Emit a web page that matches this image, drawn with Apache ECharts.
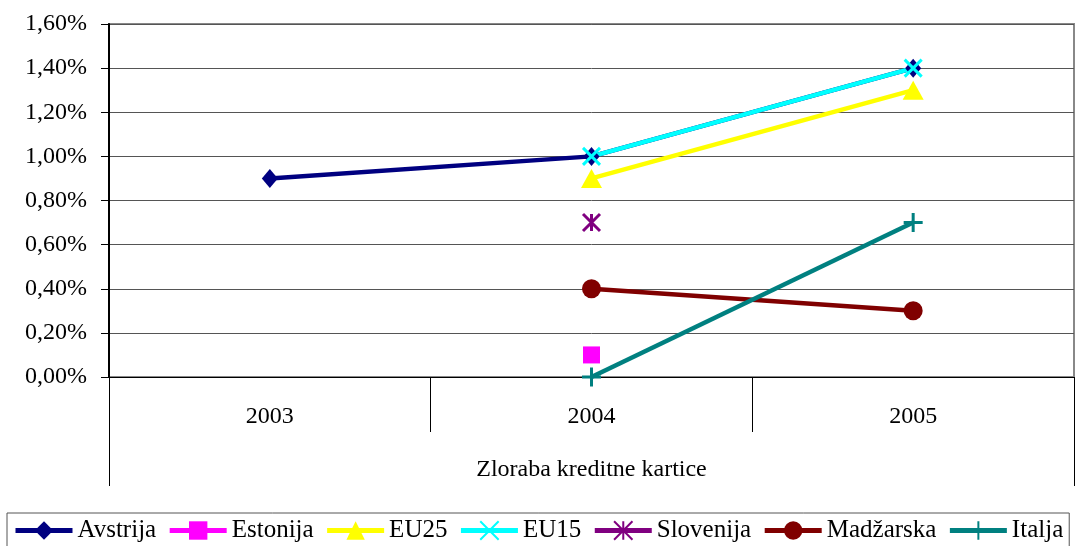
<!DOCTYPE html>
<html>
<head>
<meta charset="utf-8">
<script src="https://cdn.jsdelivr.net/npm/echarts@6/dist/echarts.min.js"></script>
<style>
  html, body { margin: 0; padding: 0; background: #fff; }
  #chart { width: 1075px; height: 546px; }
</style>
</head>
<body>
<div id="chart"></div>
<script>
const years = ['2003', '2004', '2005'];
const groupLabel = ['Zloraba kreditne kartice'];
const avstrija = [0.9, 1.0, 1.4];
const estonija = ['-', 0.1, '-'];
const eu25 = ['-', 0.9, 1.3];
const eu15 = ['-', 1.0, 1.4];
const slovenija = ['-', 0.7, '-'];
const madzarska = ['-', 0.4, 0.3];
const italija = ['-', 0, 0.7];

const font = 'Liberation Serif, Times New Roman, serif';
const xPath = 'path://M0 0 L10 10 M10 0 L0 10';
const starPath = 'path://M0 0 L10 10 M10 0 L0 10 M5 0 L5 10';
const plusPath = 'path://M5 0 L5 10 M0 5 L10 5';

function line(name, data, color, symbol, size, stroke) {
    const s = {
        name: name,
        type: 'line',
        data: data,
        symbol: symbol,
        symbolSize: size,
        showAllSymbol: true,
        lineStyle: { color: color, width: 4.5 },
        itemStyle: { color: color, opacity: 1 },
        emphasis: { disabled: true },
        animation: false
    };
    if (stroke) {
        s.itemStyle = { color: 'none', borderColor: color, borderWidth: 3, opacity: 1 };
    }
    return s;
}

const chart = echarts.init(document.getElementById('chart'));
chart.setOption({
    backgroundColor: '#fff',
    textStyle: { fontFamily: font },
    grid: {
        left: 109, right: 1, top: 24, bottom: 169,
        show: true, borderColor: '#888', borderWidth: 2
    },
    legend: {
        left: 7, top: 513,
        padding: [5, 6, 6, 6],
        borderColor: '#555', borderWidth: 1,
        itemWidth: 57, itemHeight: 23, itemGap: 11,
        lineStyle: { width: 5 },
        textStyle: { fontFamily: font, fontSize: 25, color: '#000' },
        data: ['Avstrija', 'Estonija', 'EU25', 'EU15', 'Slovenija', 'Madžarska', 'Italja']
    },
    xAxis: [{
        type: 'category',
        data: years,
        boundaryGap: true,
        axisLine: { lineStyle: { color: '#000', width: 1 } },
        axisTick: { show: true, alignWithLabel: false, length: 55, lineStyle: { color: '#000' } },
        axisLabel: { margin: 28, fontFamily: font, fontSize: 24, color: '#000' }
    }, {
        type: 'category',
        data: groupLabel,
        position: 'bottom',
        boundaryGap: true,
        axisLine: { show: false },
        axisTick: { show: true, alignWithLabel: false, length: 109, lineStyle: { color: '#000' } },
        axisLabel: { margin: 81, fontFamily: font, fontSize: 24, color: '#000' }
    }],
    yAxis: {
        type: 'value',
        min: 0, max: 1.6, interval: 0.2,
        axisLine: { show: true, lineStyle: { color: '#000', width: 2 } },
        axisTick: { show: true, length: 8, lineStyle: { color: '#000' } },
        axisLabel: {
            margin: 22, fontFamily: font, fontSize: 24, color: '#000',
            formatter: v => v.toFixed(2).replace('.', ',') + '%'
        },
        splitLine: { lineStyle: { color: '#555', width: 1 } }
    },
    series: [
        line('Avstrija', avstrija, '#000080', 'diamond', [16, 19]),
        line('Estonija', estonija, '#FF00FF', 'rect', 17),
        line('EU25', eu25, '#FFFF00', 'triangle', [21, 19]),
        line('EU15', eu15, '#00FFFF', xPath, 17, true),
        line('Slovenija', slovenija, '#800080', starPath, 17, true),
        line('Madžarska', madzarska, '#800000', 'circle', 19),
        line('Italja', italija, '#008080', plusPath, 19, true)
    ]
});
</script>
</body>
</html>
